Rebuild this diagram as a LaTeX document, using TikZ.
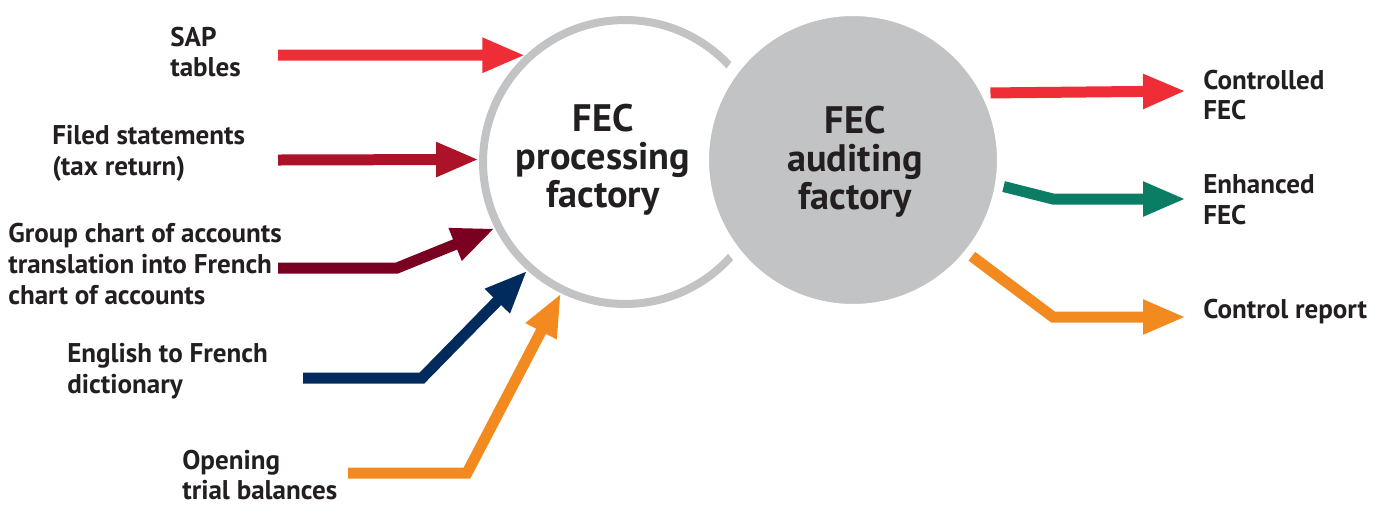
\documentclass[tikz,border=0pt]{standalone}
\usepackage{fontspec}
\setmainfont{PT Sans}
\usetikzlibrary{arrows.meta}
\definecolor{ringgray}{HTML}{C2C3C5}
\definecolor{txtblack}{HTML}{231F20}
\definecolor{sapred}{HTML}{EE2D36}
\definecolor{filedred}{HTML}{AD1328}
\definecolor{grpred}{HTML}{7A0021}
\definecolor{dictblue}{HTML}{002B5C}
\definecolor{openorange}{HTML}{F28A20}
\definecolor{enhgreen}{HTML}{0B7D65}

\begin{document}
\begin{tikzpicture}[x=0.02cm,y=-0.02cm,
	lbl/.style ={anchor=west, align=left, inner sep=0pt, text=txtblack, font=\bfseries\fontsize{15.4}{17.6}\selectfont},
	biglbl/.style ={align=center, inner sep=0pt, text=txtblack, font=\bfseries\fontsize{21.8}{21.6}\selectfont},
	flow/.style ={line width=0.22cm, -{Triangle[length=0.86cm,width=0.64cm]}}]
	\useasboundingbox (0,0) rectangle (1397,505);
	% the two factories
	\node[circle, draw=ringgray, line width=0.16cm, fill=white, minimum size=5.68cm, inner sep=0pt] (proc) at (625,162) {};
	\node[circle, draw=white, line width=0.24cm, fill=ringgray, minimum size=6.0cm, inner sep=0pt, outer sep=0.06cm] (audit) at (853,160) {};
	\node[biglbl] (proctxt) at (603,160) {FEC\\processing\\factory};
	\node[biglbl] (audittxt) at (855,162) {FEC\\auditing\\factory};
	% inputs
	\node[lbl] (sap) at (170,52) {SAP\\tables};
	\node[lbl] (filed) at (52,153) {Filed statements\\(tax return)};
	\node[lbl] (grp) at (8,264) {Group chart of accounts\\translation into French\\chart of accounts};
	\node[lbl] (dict) at (67,371) {English to French\\dictionary};
	\node[lbl] (open) at (182,475) {Opening\\trial balances};
	% outputs
	\node[lbl] (ctrl) at (1203,95) {Controlled\\FEC};
	\node[lbl] (enh) at (1203,200) {Enhanced\\FEC};
	\node[lbl] (rep) at (1203,312) {Control report};
	% arrow ends
	\coordinate (i1) at (278,55);
	\coordinate (i2) at (278,160);
	\coordinate (i3) at (278,268);
	\coordinate (b3) at (397,268);
	\coordinate (i4) at (303,378);
	\coordinate (b4) at (422,378);
	\coordinate (i5) at (348,473);
	\coordinate (b5) at (467,473);
	\coordinate (o1) at (1186,91);
	\coordinate (b7) at (1053,199);
	\coordinate (o2) at (1186,199);
	\coordinate (b8) at (1053,317);
	\coordinate (o3) at (1186,317);
	\draw[flow, sapred] (i1)--(proc.133);
	\draw[flow, filedred] (i2)--(proc.179.5);
	\draw[flow, grpred] (i3)--(b3)--(proc.207);
	\draw[flow, dictblue] (i4)--(b4)--(proc.228);
	\draw[flow, openorange] (i5)--(b5)--(proc.244);
	\draw[flow, sapred] (audit.26.5)--(o1);
	\draw[flow, enhgreen] (audit.350.5)--(b7)--(o2);
	\draw[flow, openorange] (audit.321.6)--(b8)--(o3);
\end{tikzpicture}
\end{document}
